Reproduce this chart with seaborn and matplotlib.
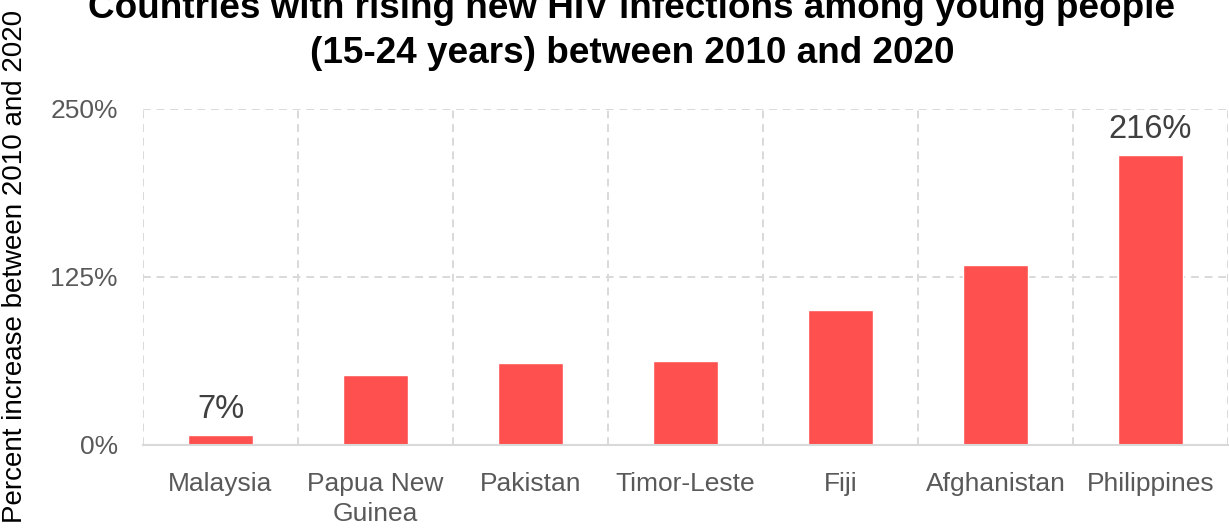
import matplotlib
matplotlib.use("Agg")
import matplotlib.pyplot as plt
import seaborn as sns
import pandas as pd
import numpy as np

countries = ["Malaysia", "Papua New\nGuinea", "Pakistan", "Timor-Leste", "Fiji", "Afghanistan", "Philippines"]
increase = [7, 52, 61, 62, 100, 134, 216]
bar_labels = ["7%", "", "", "", "", "", "216%"]
yticks = [0, 125, 250]
ytick_labels = ["0%", "125%", "250%"]

sns.set_theme(style="white")
plt.rcParams["font.family"] = ["Liberation Sans", "DejaVu Sans"]

df = pd.DataFrame({"country": countries, "increase": increase})

fig = plt.figure(figsize=(12.29, 5.30), dpi=100)
ax = fig.add_axes([143/1229, 1-444.5/530, (1228-143)/1229, (444.5-109)/530])

sns.barplot(data=df, x="country", y="increase", color="#FF5050", saturation=1,
            width=0.42, ax=ax)

ax.set_xlim(-0.5, 6.5)
ax.set_ylim(0, 250)
ax.set_yticks(yticks)
ax.set_yticklabels(ytick_labels)
ax.set_xlabel("")
ax.set_ylabel("")

ax.tick_params(axis="y", length=0, pad=18, labelsize=19, labelcolor="#595959")
ax.tick_params(axis="x", length=0, pad=20, labelsize=19, labelcolor="#595959")
for lbl in ax.get_xticklabels():
    lbl.set_linespacing(1.3)

for s in ["top", "right", "left"]:
    ax.spines[s].set_visible(False)
ax.spines["bottom"].set_color("#D9D9D9")
ax.spines["bottom"].set_linewidth(1.5)

ax.set_xticks(np.arange(-0.5, 7, 1), minor=True)
ax.tick_params(axis="x", which="minor", length=0)
ax.grid(True, which="minor", axis="x", color="#D9D9D9", linestyle=(0, (4, 3)), linewidth=1.4)
ax.grid(True, which="major", axis="y", color="#D9D9D9", linestyle=(0, (4, 3)), linewidth=1.4)
ax.grid(False, which="major", axis="x")
ax.set_axisbelow(True)

ax.bar_label(ax.containers[0], labels=bar_labels, padding=7, fontsize=23.5, color="#404040")

fig.text(632/1229, 1-18/530, "Countries with rising new HIV infections among young people",
         ha="center", va="baseline", fontsize=26.6, fontweight="bold", color="black")
fig.text(632/1229, 1-63/530, "(15-24 years) between 2010 and 2020",
         ha="center", va="baseline", fontsize=26.6, fontweight="bold", color="black")

fig.text(15/1229, 1-266/530, "Percent increase between 2010 and 2020", rotation=90,
         ha="center", va="center", fontsize=20, color="black")

fig.savefig("out.png", dpi=100)
